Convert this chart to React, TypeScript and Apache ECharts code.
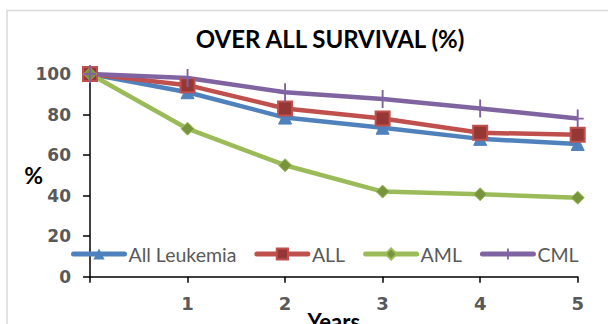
import React, { useEffect, useRef } from "react";
import * as echarts from "echarts";

const years = [0, 1, 2, 3, 4, 5];
const allLeukemia = [100, 91, 78.5, 73.5, 68, 65.5];
const allSeries = [100, 94.5, 83, 78, 71, 70];
const aml = [100, 73, 55, 42, 40.7, 39];
const cml = [100, 98, 91, 87.7, 83, 78];
const yTicks = [0, 20, 40, 60, 80, 100];

const plus = "path://M4.2,0 H5.8 V7.2 H10 V8.8 H5.8 V16 H4.2 V8.8 H0 V7.2 H4.2 Z";

export default function App() {
  const ref = useRef<HTMLDivElement>(null);
  useEffect(() => {
    const chart = echarts.init(ref.current!, null, { renderer: "svg" });
    const mk = (arr: number[]) => years.map((x, i) => [x, arr[i]]);
    const labelFont = { fontFamily: "DejaVu Sans", fontWeight: "bold" as const, fontSize: 17, color: "#595959" };
    chart.setOption({
      animation: false,
      backgroundColor: "#ffffff",
      title: {
        text: "OVER ALL SURVIVAL (%)",
        left: 325,
        textAlign: "center",
        top: 21,
        textStyle: { fontFamily: "Lato", fontWeight: "bold", fontSize: 24, color: "#000" },
      },
      graphic: [
        {
          type: "rect",
          shape: { x: 7, y: 10.5, width: 800, height: 400 },
          style: { fill: "none", stroke: "#D9D9D9", lineWidth: 1.5 },
          z: -1,
        },
      ],
      grid: { left: 90, right: 30.3, top: 74, bottom: 47.3, outerBoundsMode: "none", containLabel: false },
      legend: {
        left: 71,
        top: 244,
        padding: 0,
        itemWidth: 51,
        itemHeight: 14,
        itemGap: 18,
        lineStyle: { width: 5, cap: "round" },
        textStyle: { fontFamily: "Lato", fontSize: 19.5, color: "#595959", padding: [0, 0, 0, -1] },
        data: ["All Leukemia", "ALL", "AML", "CML"],
      },
      xAxis: {
        type: "value",
        min: 0,
        max: 5,
        interval: 1,
        splitLine: { show: false },
        axisLine: { lineStyle: { color: "#000", width: 1.5 } },
        axisTick: { show: true, length: 6, inside: false, lineStyle: { color: "#000", width: 1.5 } },
        axisLabel: { ...labelFont, fontSize: 18, margin: 18, formatter: (v: number) => (v === 0 ? "" : String(v)) },
        name: "Years",
        nameLocation: "middle",
        nameGap: 34,
        nameMoveOverlap: false,
        nameTextStyle: { fontFamily: "Lato", fontWeight: "bold", fontSize: 22, color: "#000" },
      },
      yAxis: {
        type: "value",
        min: 0,
        max: 100,
        interval: 20,
        splitLine: { show: false },
        axisLine: { show: true, lineStyle: { color: "#000", width: 1.5 } },
        axisTick: { show: true, length: 7, inside: false, lineStyle: { color: "#000", width: 1.5 } },
        axisLabel: { ...labelFont, margin: 19, formatter: (v: number) => (yTicks.includes(v) ? String(v) : "") },
        name: "%",
        nameLocation: "middle",
        nameRotate: 0,
        nameGap: 47,
        nameMoveOverlap: false,
        nameTextStyle: { fontFamily: "Lato", fontWeight: "bold", fontSize: 23, color: "#000", padding: [6, 0, 0, 0] },
      },
      series: [
        {
          name: "All Leukemia",
          type: "line",
          data: mk(allLeukemia),
          symbol: "triangle",
          symbolSize: 13,
          lineStyle: { color: "#4F81BD", width: 4.5 },
          itemStyle: { color: "#4F81BD", borderColor: "#4F81BD" },
        },
        {
          name: "ALL",
          type: "line",
          data: mk(allSeries),
          symbol: "rect",
          symbolSize: 14,
          lineStyle: { color: "#C0504D", width: 4.5 },
          itemStyle: { color: "#953735", borderColor: "#C0504D", borderWidth: 2 },
        },
        {
          name: "AML",
          type: "line",
          data: mk(aml),
          symbol: "diamond",
          symbolSize: 13,
          lineStyle: { color: "#9BBB59", width: 4.5 },
          itemStyle: { color: "#77933C", borderColor: "#9BBB59", borderWidth: 1 },
        },
        {
          name: "CML",
          type: "line",
          data: mk(cml),
          symbol: plus,
          symbolSize: [12, 18],
          lineStyle: { color: "#8064A2", width: 4.5 },
          itemStyle: { color: "#8064A2" },
        },
      ],
    });
    return () => chart.dispose();
  }, []);
  return <div ref={ref} style={{ width: 608, height: 324, position: "absolute", left: 0, top: 0 }} />;
}
